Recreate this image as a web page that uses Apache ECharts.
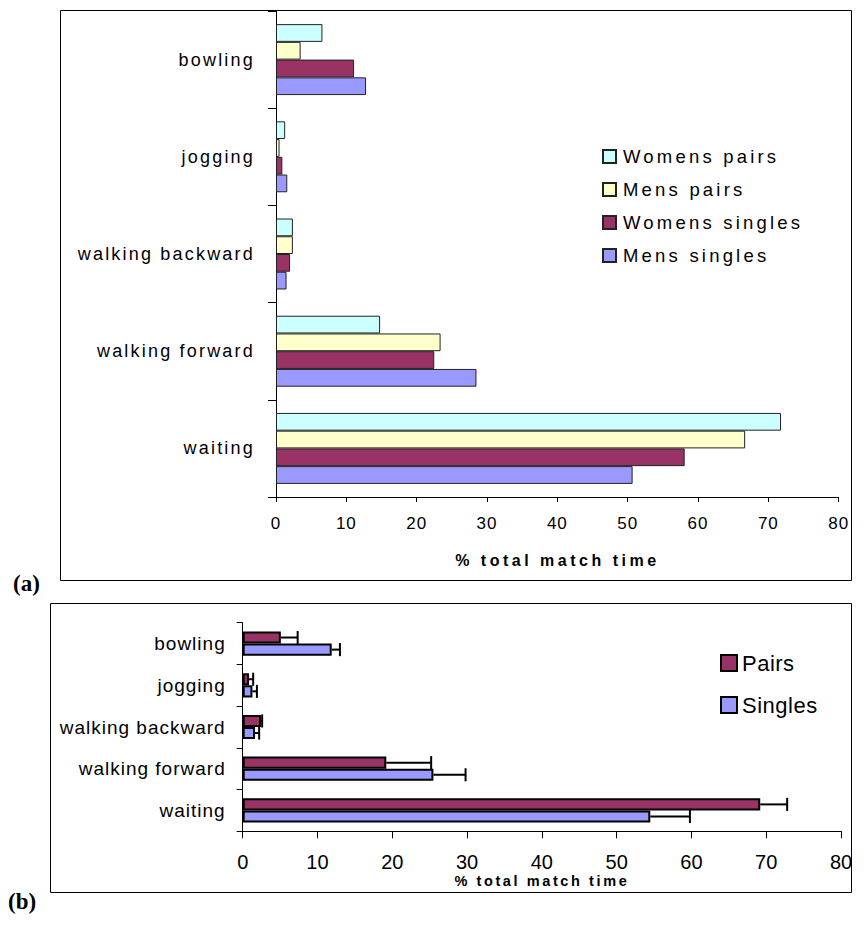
<!DOCTYPE html>
<html>
<head>
<meta charset="utf-8">
<script src="https://cdn.jsdelivr.net/npm/echarts@6/dist/echarts.min.js"></script>
<style>
  html, body { margin: 0; padding: 0; background: #fff; }
  #page { position: relative; width: 868px; height: 938px; overflow: hidden; }
  #chartA { position: absolute; left: 0; top: 0; width: 868px; height: 590px; }
  #chartB { position: absolute; left: 0; top: 590px; width: 868px; height: 348px; }
  .tag { position: absolute; font-family: "Liberation Serif", "DejaVu Serif", serif;
         font-weight: bold; font-size: 23px; line-height: 1; color: #000; }
  /* wide tracking of the exported chart fonts */
  #chartA text[style*="17px"] { letter-spacing: 1px; }
  #chartA text[style*="18px"] { letter-spacing: 2.2px; }
  #chartA text[style*="18.5px"] { letter-spacing: 3.2px; }
  #chartA text[style*="16px"] { letter-spacing: 3.5px; }
  #chartB text[style*="19px"] { letter-spacing: 1px; }
  #chartB text[style*="22px"] { letter-spacing: 0.5px; }
  #chartB text[style*="14.5px"] { letter-spacing: 2.6px; }
</style>
</head>
<body>
<div id="page">
  <div id="chartA"></div>
  <div id="chartB"></div>
  <div class="tag" style="left:13px; top:572px;">(a)</div>
  <div class="tag" style="left:8px; top:890px;">(b)</div>
</div>
<script>
// Activities, listed bottom-to-top as the category axis draws them
const activities = ['waiting', 'walking forward', 'walking backward', 'jogging', 'bowling'];

// (a) % of total match time by group
const womensPairs   = [71.8, 14.8, 2.4, 1.3, 6.6];
const mensPairs     = [66.7, 23.4, 2.4, 0.5, 3.5];
const womensSingles = [58.1, 22.5, 2.0, 0.9, 11.1];
const mensSingles   = [50.7, 28.5, 1.5, 1.6, 12.8];

// (b) pairs vs singles: mean and +SD
const pairsMean   = [69.2, 19.2, 2.45, 0.85, 5.1];
const pairsSD     = [3.6, 6.0, 0.15, 0.55, 2.25];
const singlesMean = [54.5, 25.5, 1.65, 1.3, 11.9];
const singlesSD   = [5.3, 4.3, 0.55, 0.6, 1.1];

// shared value axis
const xMin = 0, xMax = 80, xStep = 10;
const axisTitle = '% total match time';

const FONT = 'Liberation Sans, Arial, sans-serif';

// ---------- chart (a) ----------
const chartA = echarts.init(document.getElementById('chartA'), null, { renderer: 'svg' });

const groupA = [
  { name: 'Womens pairs',   data: womensPairs,   color: '#CCFFFF' },
  { name: 'Mens pairs',     data: mensPairs,     color: '#FFFFCC' },
  { name: 'Womens singles', data: womensSingles, color: '#993366' },
  { name: 'Mens singles',   data: mensSingles,   color: '#9999FF' }
];

chartA.setOption({
  animation: false,
  backgroundColor: '#fff',
  textStyle: { fontFamily: FONT },
  graphic: [{
    type: 'rect', silent: true,
    shape: { x: 60.5, y: 10.5, width: 791, height: 570 },
    style: { fill: 'none', stroke: '#000', lineWidth: 1 }
  }],
  grid: { left: 276, top: 11, width: 562.7, height: 486, containLabel: false },
  legend: {
    orient: 'vertical', left: 597, top: 142,
    itemWidth: 13, itemHeight: 13, itemGap: 14,
    icon: 'rect',
    data: groupA.map(g => g.name),
    textStyle: { fontFamily: FONT, fontSize: 18.5, color: '#000', padding: [0, 0, 0, 2] }
  },
  xAxis: {
    type: 'value', min: xMin, max: xMax, interval: xStep,
    name: axisTitle, nameLocation: 'middle', nameGap: 55, nameMoveOverlap: false,
    nameTextStyle: { fontFamily: FONT, fontSize: 16, fontWeight: 'bold', color: '#000' },
    axisLine: { show: true, lineStyle: { color: '#000', width: 1 } },
    axisTick: { show: true, length: 5, lineStyle: { color: '#000' } },
    axisLabel: { margin: 18, fontFamily: FONT, fontSize: 17, color: '#000' },
    splitLine: { show: false }
  },
  yAxis: {
    type: 'category', data: activities,
    axisLine: { show: true, lineStyle: { color: '#000', width: 1 } },
    axisTick: { show: true, length: 8, lineStyle: { color: '#000' } },
    axisLabel: { margin: 21, fontFamily: FONT, fontSize: 18, color: '#000' }
  },
  series: groupA.map(g => ({
    type: 'bar', name: g.name, data: g.data,
    barCategoryGap: '27%', barGap: '0%',
    itemStyle: { color: g.color, borderColor: '#222', borderWidth: 1 }
  }))
});

// ---------- chart (b) ----------
const chartB = echarts.init(document.getElementById('chartB'), null, { renderer: 'svg' });

const B_GAP = 0.42;      // share of each band left empty
const groupB = [
  { name: 'Pairs',   mean: pairsMean,   sd: pairsSD,   color: '#993366' },
  { name: 'Singles', mean: singlesMean, sd: singlesSD, color: '#9999FF' }
];

// rows for the error whiskers: [mean, category index, sd, bar slot]
const whiskerRows = [];
groupB.forEach((g, k) => {
  g.mean.forEach((m, i) => whiskerRows.push([m, i, g.sd[i], k]));
});

function renderWhisker(params, api) {
  const mean = api.value(0), cat = api.value(1), sd = api.value(2), slot = api.value(3);
  const p0 = api.coord([mean, cat]);
  const p1 = api.coord([mean + sd, cat]);
  const band = api.size([0, 1])[1];
  const barW = band * (1 - B_GAP) / groupB.length;
  const y = p0[1] - band * (1 - B_GAP) / 2 + barW * (slot + 0.5);
  const half = barW / 2 + 0.5;
  const st = { stroke: '#000', lineWidth: 2 };
  return {
    type: 'group',
    children: [
      { type: 'line', shape: { x1: p0[0], y1: y, x2: p1[0], y2: y }, style: st },
      { type: 'line', shape: { x1: p1[0], y1: y - half, x2: p1[0], y2: y + half }, style: st }
    ]
  };
}

chartB.setOption({
  animation: false,
  backgroundColor: '#fff',
  textStyle: { fontFamily: FONT },
  graphic: [{
    type: 'rect', silent: true,
    shape: { x: 50.5, y: 13.5, width: 801, height: 289 },
    style: { fill: 'none', stroke: '#000', lineWidth: 1 }
  }],
  grid: { left: 242.7, top: 32.7, width: 598.3, height: 208.6, containLabel: false },
  legend: {
    orient: 'vertical', left: 715, top: 57,
    itemWidth: 16, itemHeight: 16, itemGap: 20,
    icon: 'rect',
    data: groupB.map(g => g.name),
    textStyle: { fontFamily: FONT, fontSize: 22, color: '#000', padding: [0, 0, 0, 0] }
  },
  xAxis: {
    type: 'value', min: xMin, max: xMax, interval: xStep,
    name: axisTitle, nameLocation: 'middle', nameGap: 42, nameMoveOverlap: false,
    nameTextStyle: { fontFamily: FONT, fontSize: 14.5, fontWeight: 'bold', color: '#000' },
    axisLine: { show: true, lineStyle: { color: '#000', width: 1 } },
    axisTick: { show: true, length: 7, lineStyle: { color: '#000' } },
    axisLabel: { margin: 21, fontFamily: FONT, fontSize: 20, color: '#000' },
    splitLine: { show: false }
  },
  yAxis: {
    type: 'category', data: activities,
    axisLine: { show: true, lineStyle: { color: '#000', width: 1 } },
    axisTick: { show: true, length: 6, lineStyle: { color: '#000' } },
    axisLabel: { margin: 17, fontFamily: FONT, fontSize: 19, color: '#000' }
  },
  series: groupB.map(g => ({
    type: 'bar', name: g.name, data: g.mean,
    barCategoryGap: (B_GAP * 100) + '%', barGap: '0%',
    itemStyle: { color: g.color, borderColor: '#000', borderWidth: 2 }
  })).concat([{
    type: 'custom', name: 'SD', renderItem: renderWhisker,
    data: whiskerRows, encode: { x: 0, y: 1 }, z: 3, clip: false,
    silent: true
  }])
});
</script>
</body>
</html>
